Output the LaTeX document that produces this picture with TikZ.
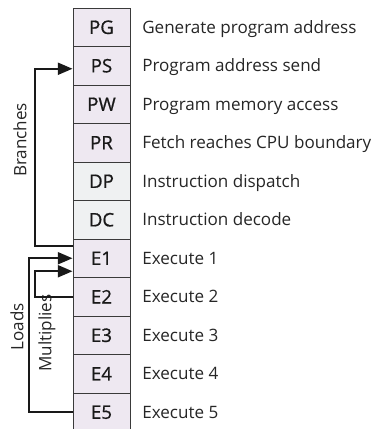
\documentclass[tikz,border=0pt]{standalone}
\usepackage{fontspec}
\setmainfont{Open Sans}
\newfontfamily\stagefont[FakeBold=0.8]{Open Sans}
\usepackage{tikz}
\usetikzlibrary{arrows.meta}
\definecolor{fetchfill}{HTML}{EEE8F1}
\definecolor{decodefill}{HTML}{EFF1F2}
\definecolor{edge}{HTML}{3A3A3A}

\begin{document}
\begin{tikzpicture}[
     x = 0.75pt, y = -0.75pt,
     stage/.style = {
     	rectangle, draw = edge, line width = 0.75pt, fill = fetchfill,
     	minimum width = 42.75pt, minimum height = 28.875pt, inner sep = 0pt,
     	text = black!90, font = \stagefont\fontsize{14}{16}\selectfont},
     decode/.style = {stage, fill = decodefill},
     desc/.style = {anchor = base west, yshift = -4.5pt, inner sep = 0pt,
     	text = black!85, font = \fontsize{12.8}{15}\selectfont},
     side/.style = {rotate = 90, inner sep = 0pt, text = black!85,
     	font = \fontsize{12.8}{15}\selectfont},
     flow/.style = {line width = 1.5pt, black!90,
     	-{Triangle[length = 11pt, width = 9pt]}}
     ]
     \useasboundingbox (0,0) rectangle (376,429);

       \node[stage] (PG) at (101.5,27.25) {PG}; % 0
       \node[stage] (PS) at (101.5,65.75) {PS}; % 1
       \node[stage] (PW) at (101.5,104.25) {PW}; % 2
       \node[stage] (PR) at (101.5,142.75) {PR}; % 3
       \node[decode] (DP) at (101.5,181.25) {DP}; % 4
       \node[decode] (DC) at (101.5,219.75) {DC}; % 5
       \node[stage] (E1) at (101.5,258.25) {E1}; % 6
       \node[stage] (E2) at (101.5,296.75) {E2}; % 7
       \node[stage] (E3) at (101.5,335.25) {E3}; % 8
       \node[stage] (E4) at (101.5,373.75) {E4}; % 9
       \node[stage] (E5) at (101.5,412.25) {E5}; % 10

       \node[desc] (tPG) at (142,27.25) {Generate program address};
       \node[desc] (tPS) at (142,65.75) {Program address send};
       \node[desc] (tPW) at (142,104.25) {Program memory access};
       \node[desc] (tPR) at (142,142.75) {Fetch reaches CPU boundary};
       \node[desc] (tDP) at (142,181.25) {Instruction dispatch};
       \node[desc] (tDC) at (142,219.75) {Instruction decode};
       \node[desc] (tE1) at (142,258.25) {Execute 1};
       \node[desc] (tE2) at (142,296.75) {Execute 2};
       \node[desc] (tE3) at (142,335.25) {Execute 3};
       \node[desc] (tE4) at (142,373.75) {Execute 4};
       \node[desc] (tE5) at (142,412.25) {Execute 5};

       \node[side] (branches) at (20,140) {Branches};
       \node[side] (loads) at (17,327) {Loads};
       \node[side] (multiplies) at (47,333) {Multiplies};

       \draw[flow] ([yshift=9.4pt]E1.west) -- ++(-38,0) |- ([yshift=-2.25pt]PS.west);
       \draw[flow] (E5.west) -- ++(-44,0) |- (E1.west);
       \draw[flow] (E2.west) -- ++(-38,0) |- ([yshift=-9.75pt]E1.west);
      \end{tikzpicture}
\end{document}
